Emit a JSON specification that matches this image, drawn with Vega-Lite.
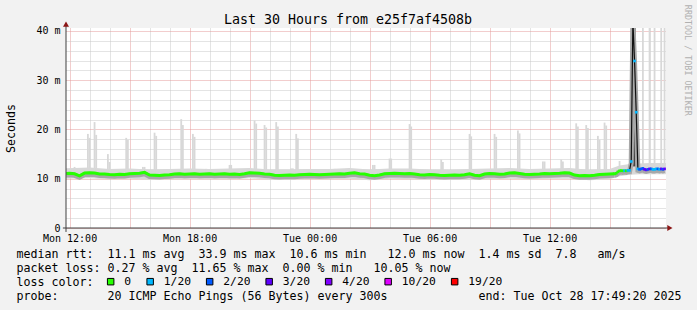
{
"$schema": "https://vega.github.io/schema/vega-lite/v6.json",
"width": 600,
"height": 200,
"autosize": {"type": "none"},
"padding": {"left": 66, "top": 28, "right": 31, "bottom": 82},
"background": "#f2f2f2",
"title": {"text": "Last 30 Hours from e25f7af4508b", "anchor": "middle", "frame": "group", "dx": -18, "dy": 36, "offset": 4, "baseline": "alphabetic", "font": "DejaVu Sans Mono", "fontSize": 13.3, "fontWeight": "normal", "color": "black"},
"config": {
  "view": {"fill": "white", "stroke": null},
  "axis": {"labelFont": "DejaVu Sans Mono", "titleFont": "DejaVu Sans Mono", "labelColor": "black", "titleColor": "black", "titleFontWeight": "normal"},
  "legend": {"symbolStrokeColor": "black", "symbolStrokeWidth": 1, "symbolOpacity": 1}
},
"datasets": {
  "smoke": [
    {"t": "2025-10-27T11:45:00", "lo": 10.0, "hi": 12.1},
    {"t": "2025-10-27T13:00:00", "lo": 10.1, "hi": 12.3},
    {"t": "2025-10-27T14:00:00", "lo": 9.9, "hi": 12.0},
    {"t": "2025-10-27T15:00:00", "lo": 10.0, "hi": 12.1},
    {"t": "2025-10-27T16:00:00", "lo": 9.8, "hi": 11.9},
    {"t": "2025-10-27T17:00:00", "lo": 9.9, "hi": 12.0},
    {"t": "2025-10-27T18:00:00", "lo": 9.9, "hi": 12.1},
    {"t": "2025-10-27T19:00:00", "lo": 9.9, "hi": 12.0},
    {"t": "2025-10-27T20:00:00", "lo": 9.9, "hi": 12.1},
    {"t": "2025-10-27T21:00:00", "lo": 10.1, "hi": 12.2},
    {"t": "2025-10-27T22:00:00", "lo": 9.8, "hi": 11.9},
    {"t": "2025-10-27T23:00:00", "lo": 9.8, "hi": 11.9},
    {"t": "2025-10-28T00:00:00", "lo": 9.9, "hi": 12.0},
    {"t": "2025-10-28T01:00:00", "lo": 9.9, "hi": 12.0},
    {"t": "2025-10-28T02:00:00", "lo": 10.0, "hi": 12.2},
    {"t": "2025-10-28T03:00:00", "lo": 9.7, "hi": 11.9},
    {"t": "2025-10-28T04:00:00", "lo": 10.0, "hi": 12.1},
    {"t": "2025-10-28T05:00:00", "lo": 9.9, "hi": 12.1},
    {"t": "2025-10-28T06:00:00", "lo": 9.8, "hi": 11.9},
    {"t": "2025-10-28T07:00:00", "lo": 9.8, "hi": 11.8},
    {"t": "2025-10-28T08:00:00", "lo": 9.8, "hi": 12.0},
    {"t": "2025-10-28T09:00:00", "lo": 9.9, "hi": 12.1},
    {"t": "2025-10-28T10:00:00", "lo": 10.0, "hi": 12.2},
    {"t": "2025-10-28T11:00:00", "lo": 9.9, "hi": 12.0},
    {"t": "2025-10-28T12:00:00", "lo": 10.0, "hi": 12.1},
    {"t": "2025-10-28T13:00:00", "lo": 10.0, "hi": 12.2},
    {"t": "2025-10-28T14:00:00", "lo": 9.7, "hi": 11.8},
    {"t": "2025-10-28T15:00:00", "lo": 9.9, "hi": 12.0},
    {"t": "2025-10-28T15:30:00", "lo": 10.5, "hi": 12.7},
    {"t": "2025-10-28T16:00:00", "lo": 10.8, "hi": 13.0},
    {"t": "2025-10-28T16:30:00", "lo": 10.9, "hi": 13.1},
    {"t": "2025-10-28T17:00:00", "lo": 10.9, "hi": 13.2},
    {"t": "2025-10-28T17:49:00", "lo": 10.9, "hi": 13.2}
  ],
  "spk": [
    {"t": "2025-10-27T12:15:00", "top": 12.4},
    {"t": "2025-10-27T12:55:00", "top": 19.1},
    {"t": "2025-10-27T13:00:00", "top": 18.3},
    {"t": "2025-10-27T13:15:00", "top": 21.5},
    {"t": "2025-10-27T13:20:00", "top": 18.9},
    {"t": "2025-10-27T13:55:00", "top": 15.0},
    {"t": "2025-10-27T14:00:00", "top": 13.4},
    {"t": "2025-10-27T14:50:00", "top": 18.3},
    {"t": "2025-10-27T14:55:00", "top": 17.9},
    {"t": "2025-10-27T15:40:00", "top": 12.4},
    {"t": "2025-10-27T15:45:00", "top": 12.4},
    {"t": "2025-10-27T16:15:00", "top": 19.35},
    {"t": "2025-10-27T16:20:00", "top": 18.7},
    {"t": "2025-10-27T17:35:00", "top": 22.1},
    {"t": "2025-10-27T17:40:00", "top": 20.9},
    {"t": "2025-10-27T18:10:00", "top": 19.1},
    {"t": "2025-10-27T18:15:00", "top": 18.5},
    {"t": "2025-10-27T18:50:00", "top": 12.0},
    {"t": "2025-10-27T20:00:00", "top": 12.8},
    {"t": "2025-10-27T20:05:00", "top": 12.8},
    {"t": "2025-10-27T21:15:00", "top": 21.8},
    {"t": "2025-10-27T21:20:00", "top": 21.2},
    {"t": "2025-10-27T21:45:00", "top": 20.9},
    {"t": "2025-10-27T21:50:00", "top": 20.4},
    {"t": "2025-10-27T22:20:00", "top": 21.5},
    {"t": "2025-10-27T22:25:00", "top": 20.6},
    {"t": "2025-10-27T23:05:00", "top": 12.1},
    {"t": "2025-10-27T23:10:00", "top": 12.1},
    {"t": "2025-10-27T23:20:00", "top": 19.1},
    {"t": "2025-10-27T23:25:00", "top": 18.2},
    {"t": "2025-10-28T01:15:00", "top": 12.0},
    {"t": "2025-10-28T03:10:00", "top": 12.8},
    {"t": "2025-10-28T03:15:00", "top": 12.8},
    {"t": "2025-10-28T04:00:00", "top": 14.1},
    {"t": "2025-10-28T04:05:00", "top": 14.1},
    {"t": "2025-10-28T05:00:00", "top": 21.1},
    {"t": "2025-10-28T05:05:00", "top": 20.6},
    {"t": "2025-10-28T06:35:00", "top": 13.9},
    {"t": "2025-10-28T06:40:00", "top": 13.4},
    {"t": "2025-10-28T08:00:00", "top": 19.1},
    {"t": "2025-10-28T08:05:00", "top": 18.6},
    {"t": "2025-10-28T09:15:00", "top": 19.1},
    {"t": "2025-10-28T09:20:00", "top": 18.5},
    {"t": "2025-10-28T10:25:00", "top": 19.8},
    {"t": "2025-10-28T10:30:00", "top": 19.2},
    {"t": "2025-10-28T11:40:00", "top": 13.5},
    {"t": "2025-10-28T11:45:00", "top": 13.5},
    {"t": "2025-10-28T12:35:00", "top": 13.9},
    {"t": "2025-10-28T12:40:00", "top": 13.5},
    {"t": "2025-10-28T13:20:00", "top": 21.25},
    {"t": "2025-10-28T13:25:00", "top": 20.6},
    {"t": "2025-10-28T13:50:00", "top": 20.9},
    {"t": "2025-10-28T13:55:00", "top": 20.3},
    {"t": "2025-10-28T14:25:00", "top": 18.7},
    {"t": "2025-10-28T14:30:00", "top": 17.9},
    {"t": "2025-10-28T14:45:00", "top": 21.4},
    {"t": "2025-10-28T14:50:00", "top": 20.8},
    {"t": "2025-10-28T15:30:00", "top": 13.6},
    {"t": "2025-10-28T16:40:00", "top": 45},
    {"t": "2025-10-28T17:00:00", "top": 45},
    {"t": "2025-10-28T17:15:00", "top": 45},
    {"t": "2025-10-28T17:35:00", "top": 45},
    {"t": "2025-10-28T17:45:00", "top": 45}
  ],
  "dark": [
    {"t": "2025-10-28T16:13:00", "lo": 12.5, "hi": 45}
  ],
  "med": [
    {"t": "2025-10-27T11:50:00", "m": 11.05},
    {"t": "2025-10-27T12:00:00", "m": 11.1},
    {"t": "2025-10-27T12:15:00", "m": 11.0},
    {"t": "2025-10-27T12:30:00", "m": 10.6},
    {"t": "2025-10-27T12:45:00", "m": 11.15},
    {"t": "2025-10-27T13:00:00", "m": 11.2},
    {"t": "2025-10-27T13:15:00", "m": 11.15},
    {"t": "2025-10-27T13:30:00", "m": 10.95},
    {"t": "2025-10-27T13:45:00", "m": 10.95},
    {"t": "2025-10-27T14:00:00", "m": 10.85},
    {"t": "2025-10-27T14:15:00", "m": 10.8},
    {"t": "2025-10-27T14:30:00", "m": 10.9},
    {"t": "2025-10-27T14:45:00", "m": 10.85},
    {"t": "2025-10-27T15:00:00", "m": 11.0},
    {"t": "2025-10-27T15:15:00", "m": 11.05},
    {"t": "2025-10-27T15:30:00", "m": 11.1},
    {"t": "2025-10-27T15:45:00", "m": 11.3},
    {"t": "2025-10-27T16:00:00", "m": 10.75},
    {"t": "2025-10-27T16:15:00", "m": 10.7},
    {"t": "2025-10-27T16:30:00", "m": 10.65},
    {"t": "2025-10-27T16:45:00", "m": 10.75},
    {"t": "2025-10-27T17:00:00", "m": 10.8},
    {"t": "2025-10-27T17:15:00", "m": 10.95},
    {"t": "2025-10-27T17:30:00", "m": 11.0},
    {"t": "2025-10-27T17:45:00", "m": 10.9},
    {"t": "2025-10-27T18:00:00", "m": 10.95},
    {"t": "2025-10-27T18:15:00", "m": 11.0},
    {"t": "2025-10-27T18:30:00", "m": 10.9},
    {"t": "2025-10-27T18:45:00", "m": 10.95},
    {"t": "2025-10-27T19:00:00", "m": 11.0},
    {"t": "2025-10-27T19:15:00", "m": 10.9},
    {"t": "2025-10-27T19:30:00", "m": 10.95},
    {"t": "2025-10-27T19:45:00", "m": 11.0},
    {"t": "2025-10-27T20:00:00", "m": 10.9},
    {"t": "2025-10-27T20:15:00", "m": 10.95},
    {"t": "2025-10-27T20:30:00", "m": 10.85},
    {"t": "2025-10-27T20:45:00", "m": 11.0},
    {"t": "2025-10-27T21:00:00", "m": 11.2},
    {"t": "2025-10-27T21:15:00", "m": 11.15},
    {"t": "2025-10-27T21:30:00", "m": 11.1},
    {"t": "2025-10-27T21:45:00", "m": 10.95},
    {"t": "2025-10-27T22:00:00", "m": 10.9},
    {"t": "2025-10-27T22:15:00", "m": 10.7},
    {"t": "2025-10-27T22:30:00", "m": 10.65},
    {"t": "2025-10-27T22:45:00", "m": 10.7},
    {"t": "2025-10-27T23:00:00", "m": 10.75},
    {"t": "2025-10-27T23:15:00", "m": 10.7},
    {"t": "2025-10-27T23:30:00", "m": 10.8},
    {"t": "2025-10-27T23:45:00", "m": 10.85},
    {"t": "2025-10-28T00:00:00", "m": 10.9},
    {"t": "2025-10-28T00:15:00", "m": 10.85},
    {"t": "2025-10-28T00:30:00", "m": 10.8},
    {"t": "2025-10-28T00:45:00", "m": 10.85},
    {"t": "2025-10-28T01:00:00", "m": 10.9},
    {"t": "2025-10-28T01:15:00", "m": 10.95},
    {"t": "2025-10-28T01:30:00", "m": 11.0},
    {"t": "2025-10-28T01:45:00", "m": 10.95},
    {"t": "2025-10-28T02:00:00", "m": 11.1},
    {"t": "2025-10-28T02:15:00", "m": 11.2},
    {"t": "2025-10-28T02:30:00", "m": 11.0},
    {"t": "2025-10-28T02:45:00", "m": 10.95},
    {"t": "2025-10-28T03:00:00", "m": 10.7},
    {"t": "2025-10-28T03:15:00", "m": 10.6},
    {"t": "2025-10-28T03:30:00", "m": 10.75},
    {"t": "2025-10-28T03:45:00", "m": 11.0},
    {"t": "2025-10-28T04:00:00", "m": 11.05},
    {"t": "2025-10-28T04:15:00", "m": 11.1},
    {"t": "2025-10-28T04:30:00", "m": 11.05},
    {"t": "2025-10-28T04:45:00", "m": 11.0},
    {"t": "2025-10-28T05:00:00", "m": 11.05},
    {"t": "2025-10-28T05:15:00", "m": 10.95},
    {"t": "2025-10-28T05:30:00", "m": 10.8},
    {"t": "2025-10-28T05:45:00", "m": 10.75},
    {"t": "2025-10-28T06:00:00", "m": 10.85},
    {"t": "2025-10-28T06:15:00", "m": 10.8},
    {"t": "2025-10-28T06:30:00", "m": 10.7},
    {"t": "2025-10-28T06:45:00", "m": 10.65},
    {"t": "2025-10-28T07:00:00", "m": 10.7},
    {"t": "2025-10-28T07:15:00", "m": 10.75},
    {"t": "2025-10-28T07:30:00", "m": 10.7},
    {"t": "2025-10-28T07:45:00", "m": 10.8},
    {"t": "2025-10-28T08:00:00", "m": 11.0},
    {"t": "2025-10-28T08:15:00", "m": 10.7},
    {"t": "2025-10-28T08:30:00", "m": 10.6},
    {"t": "2025-10-28T08:45:00", "m": 10.95},
    {"t": "2025-10-28T09:00:00", "m": 11.05},
    {"t": "2025-10-28T09:15:00", "m": 11.0},
    {"t": "2025-10-28T09:30:00", "m": 10.9},
    {"t": "2025-10-28T09:45:00", "m": 10.95},
    {"t": "2025-10-28T10:00:00", "m": 11.15},
    {"t": "2025-10-28T10:15:00", "m": 11.2},
    {"t": "2025-10-28T10:30:00", "m": 11.05},
    {"t": "2025-10-28T10:45:00", "m": 10.9},
    {"t": "2025-10-28T11:00:00", "m": 10.85},
    {"t": "2025-10-28T11:15:00", "m": 10.9},
    {"t": "2025-10-28T11:30:00", "m": 10.95},
    {"t": "2025-10-28T11:45:00", "m": 11.05},
    {"t": "2025-10-28T12:00:00", "m": 11.0},
    {"t": "2025-10-28T12:15:00", "m": 11.05},
    {"t": "2025-10-28T12:30:00", "m": 11.1},
    {"t": "2025-10-28T12:45:00", "m": 11.2},
    {"t": "2025-10-28T13:00:00", "m": 11.15},
    {"t": "2025-10-28T13:15:00", "m": 10.75},
    {"t": "2025-10-28T13:30:00", "m": 10.6},
    {"t": "2025-10-28T13:45:00", "m": 10.65},
    {"t": "2025-10-28T14:00:00", "m": 10.6},
    {"t": "2025-10-28T14:15:00", "m": 10.7},
    {"t": "2025-10-28T14:30:00", "m": 10.85},
    {"t": "2025-10-28T14:45:00", "m": 10.9},
    {"t": "2025-10-28T15:00:00", "m": 10.95},
    {"t": "2025-10-28T15:15:00", "m": 11.0}
  ],
  "tail": [
    {"t": "2025-10-28T15:15:00", "m": 11.0, "l": "0"},
    {"t": "2025-10-28T15:20:00", "m": 11.1, "l": "0"},
    {"t": "2025-10-28T15:25:00", "m": 11.4, "l": "0"},
    {"t": "2025-10-28T15:30:00", "m": 11.6, "l": "0"},
    {"t": "2025-10-28T15:35:00", "m": 11.65, "l": "0"},
    {"t": "2025-10-28T15:40:00", "m": 11.6, "l": "0"},
    {"t": "2025-10-28T15:45:00", "m": 11.65, "l": "1/20"},
    {"t": "2025-10-28T15:50:00", "m": 11.6, "l": "0"},
    {"t": "2025-10-28T15:55:00", "m": 11.7, "l": "1/20"},
    {"t": "2025-10-28T16:00:00", "m": 11.7, "l": "1/20"},
    {"t": "2025-10-28T16:05:00", "m": 13.5, "l": "1/20"},
    {"t": "2025-10-28T16:10:00", "m": 42, "l": "1/20"},
    {"t": "2025-10-28T16:15:00", "m": 33.9, "l": "1/20"},
    {"t": "2025-10-28T16:20:00", "m": 23.5, "l": "1/20"},
    {"t": "2025-10-28T16:25:00", "m": 12.0, "l": "1/20"},
    {"t": "2025-10-28T16:30:00", "m": 11.9, "l": "2/20"},
    {"t": "2025-10-28T16:35:00", "m": 12.0, "l": "2/20"},
    {"t": "2025-10-28T16:40:00", "m": 12.1, "l": "2/20"},
    {"t": "2025-10-28T16:45:00", "m": 11.9, "l": "3/20"},
    {"t": "2025-10-28T16:50:00", "m": 11.8, "l": "3/20"},
    {"t": "2025-10-28T16:55:00", "m": 11.9, "l": "2/20"},
    {"t": "2025-10-28T17:00:00", "m": 12.0, "l": "3/20"},
    {"t": "2025-10-28T17:05:00", "m": 12.0, "l": "2/20"},
    {"t": "2025-10-28T17:10:00", "m": 11.9, "l": "1/20"},
    {"t": "2025-10-28T17:15:00", "m": 11.9, "l": "1/20"},
    {"t": "2025-10-28T17:20:00", "m": 12.0, "l": "1/20"},
    {"t": "2025-10-28T17:25:00", "m": 12.0, "l": "2/20"},
    {"t": "2025-10-28T17:30:00", "m": 11.9, "l": "1/20"},
    {"t": "2025-10-28T17:35:00", "m": 12.0, "l": "3/20"},
    {"t": "2025-10-28T17:40:00", "m": 11.9, "l": "2/20"},
    {"t": "2025-10-28T17:45:00", "m": 12.0, "l": "3/20"}
  ],
  "mark": [{"txt": "RRDTOOL / TOBI OETIKER"}]
},
"layer": [
  {
    "data": {"name": "smoke"},
    "mark": {"type": "area", "color": "#d8d8d8", "clip": true},
    "encoding": {
      "x": {"field": "t", "type": "temporal",
            "scale": {"domain": [{"year": 2025, "month": 10, "date": 27, "hours": 11, "minutes": 49, "seconds": 20}, {"year": 2025, "month": 10, "date": 28, "hours": 17, "minutes": 49, "seconds": 20}], "nice": false},
            "axis": {"tickCount": 30, "grid": true, "gridColor": {"condition": {"test": "hours(datum.value) % 3 == 0", "value": "#e49a9a"}, "value": "#c8c8c8"}, "gridDash": [1, 1], "domain": false, "ticks": false,
                     "labelExpr": "hours(datum.value) % 6 == 0 ? timeFormat(datum.value, '%a %H:%M') : ''", "labelFontSize": 10, "labelPadding": 5, "labelFlush": false, "labelOverlap": false,
                     "title": ["median rtt:\u00a0\u00a011.1 ms avg\u00a0\u00a033.9 ms max\u00a0\u00a010.6 ms min\u00a0\u00a0\u00a012.0 ms now\u00a0\u00a01.4 ms sd\u00a0\u00a07.8\u00a0\u00a0\u00a0am/s",
                               "packet loss: 0.27 % avg\u00a0\u00a011.65 % max\u00a0\u00a00.00 % min\u00a0\u00a0\u00a010.05 % now",
                               "loss color:",
                               "probe:\u00a0\u00a0\u00a0\u00a0\u00a0\u00a0\u00a020 ICMP Echo Pings (56 Bytes) every 300s\u00a0\u00a0\u00a0\u00a0\u00a0\u00a0\u00a0\u00a0\u00a0\u00a0\u00a0\u00a0\u00a0end: Tue Oct 28 17:49:20 2025"],
                     "titleX": -50, "titleY": 20.1, "titleAlign": "left", "titleBaseline": "top", "titleFontSize": 11.63, "titleLineHeight": 14.2}},
      "y": {"field": "lo", "type": "quantitative",
            "scale": {"domain": [0, 40.6], "nice": false, "zero": false},
            "axis": {"tickCount": 20, "grid": true,
                     "gridColor": {"condition": {"test": "datum.value % 10 == 0", "value": "#e49a9a"}, "value": "#c8c8c8"}, "gridDash": [1, 1], "domain": false, "ticks": false,
                     "labelExpr": "datum.value % 10 != 0 ? '' : (datum.value == 0 ? '0' : datum.value + ' m')", "labelFontSize": 10, "labelPadding": 6, "labelOverlap": false, "labelBound": false, "labelFlush": false,
                     "title": "Seconds", "titleX": -55, "titleY": 100, "titleAngle": -90, "titleAlign": "center", "titleBaseline": "middle", "titleFontSize": 11.63}},
      "y2": {"field": "hi"}
    }
  },
  {
    "data": {"name": "spk"},
    "mark": {"type": "rule", "color": "#d8d8d8", "strokeWidth": 1.8, "clip": true},
    "encoding": {
      "x": {"field": "t", "type": "temporal"},
      "y": {"field": "top", "type": "quantitative"},
      "y2": {"datum": 11}
    }
  },
  {
    "data": {"name": "dark"},
    "mark": {"type": "rule", "color": "#454545", "strokeWidth": 3.5, "clip": true},
    "encoding": {
      "x": {"field": "t", "type": "temporal"},
      "y": {"field": "lo", "type": "quantitative"},
      "y2": {"field": "hi"}
    }
  },
  {
    "data": {"name": "med"},
    "mark": {"type": "line", "color": "#a8a8a8", "strokeWidth": 5, "yOffset": 1.5, "clip": true},
    "encoding": {
      "x": {"field": "t", "type": "temporal"},
      "y": {"field": "m", "type": "quantitative"}
    }
  },
  {
    "data": {"name": "tail"},
    "mark": {"type": "line", "color": "#a8a8a8", "strokeWidth": 5, "yOffset": 1.5, "clip": true},
    "encoding": {
      "x": {"field": "t", "type": "temporal"},
      "y": {"field": "m", "type": "quantitative"}
    }
  },
  {
    "data": {"name": "tail"},
    "mark": {"type": "line", "color": "#111111", "strokeWidth": 1.2, "clip": true},
    "encoding": {
      "x": {"field": "t", "type": "temporal"},
      "y": {"field": "m", "type": "quantitative"}
    }
  },
  {
    "data": {"name": "med"},
    "mark": {"type": "line", "color": "#26ff00", "strokeWidth": 3, "clip": true},
    "encoding": {
      "x": {"field": "t", "type": "temporal"},
      "y": {"field": "m", "type": "quantitative"}
    }
  },
  {
    "data": {"name": "tail"},
    "mark": {"type": "square", "size": 7, "opacity": 1, "clip": true},
    "encoding": {
      "x": {"field": "t", "type": "temporal"},
      "y": {"field": "m", "type": "quantitative"},
      "color": {"field": "l", "type": "nominal",
                "scale": {"domain": ["0", "1/20", "2/20", "3/20", "4/20", "10/20", "19/20"], "range": ["#26ff00", "#00b8ff", "#0059ff", "#5e00ff", "#7e00ff", "#dd00ff", "#ff0000"]},
                "legend": {"orient": "none", "legendX": 39, "legendY": 248, "direction": "horizontal", "title": null, "padding": 0, "offset": 0,
                           "symbolType": "square", "symbolSize": 42, "labelFont": "DejaVu Sans Mono", "labelFontSize": 11.3, "labelColor": "black", "labelOffset": 8, "columnPadding": 12.5}}
    }
  },
  {
    "data": {"name": "mark"},
    "mark": {"type": "rule", "color": "#404040", "strokeWidth": 1, "clip": false},
    "encoding": {
      "x": {"datum": {"year": 2025, "month": 10, "date": 27, "hours": 11, "minutes": 40}, "type": "temporal"},
      "x2": {"datum": {"year": 2025, "month": 10, "date": 28, "hours": 18, "minutes": 0}},
      "y": {"datum": 0, "type": "quantitative"}
    }
  },
  {
    "data": {"name": "mark"},
    "mark": {"type": "rule", "color": "#404040", "strokeWidth": 1, "clip": false},
    "encoding": {
      "x": {"datum": {"year": 2025, "month": 10, "date": 27, "hours": 11, "minutes": 49, "seconds": 20}, "type": "temporal"},
      "y": {"datum": -0.8, "type": "quantitative"},
      "y2": {"datum": 41}
    }
  },
  {
    "data": {"name": "mark"},
    "mark": {"type": "point", "shape": "triangle-right", "filled": true, "size": 36, "color": "#8b1515", "opacity": 1, "clip": false},
    "encoding": {
      "x": {"datum": {"year": 2025, "month": 10, "date": 28, "hours": 18, "minutes": 1}, "type": "temporal"},
      "y": {"datum": 0, "type": "quantitative"}
    }
  },
  {
    "data": {"name": "mark"},
    "mark": {"type": "point", "shape": "triangle-up", "filled": true, "size": 36, "color": "#8b1515", "opacity": 1, "clip": false},
    "encoding": {
      "x": {"datum": {"year": 2025, "month": 10, "date": 27, "hours": 11, "minutes": 49, "seconds": 20}, "type": "temporal"},
      "y": {"datum": 41.4, "type": "quantitative"}
    }
  },
  {
    "data": {"name": "mark"},
    "mark": {"type": "text", "angle": 90, "align": "left", "baseline": "middle", "font": "DejaVu Sans Mono", "fontSize": 8.4, "color": "#b0b0b0", "clip": false},
    "encoding": {
      "x": {"datum": {"year": 2025, "month": 10, "date": 28, "hours": 18, "minutes": 55, "seconds": 20}, "type": "temporal"},
      "y": {"datum": 45.3, "type": "quantitative"},
      "text": {"field": "txt"}
    }
  }
]
}
